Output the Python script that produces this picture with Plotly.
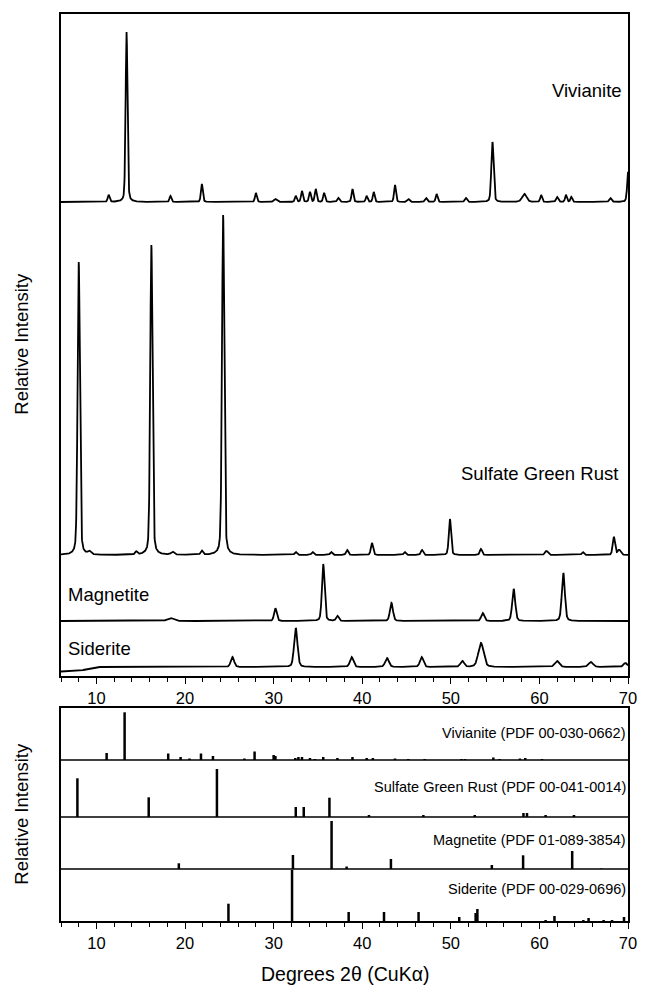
import numpy as np
import plotly.graph_objects as go

FONT = "Liberation Sans, Arial, sans-serif"
X_MIN, X_MAX = 6, 70

# ---------------- measured patterns (top panel) ----------------
# peak positions (deg 2theta), peak heights (relative units), FWHM (deg)
viv_pos = [11.38, 13.4, 18.35, 21.9, 28.0, 30.2, 32.5, 33.2, 34.1, 34.75, 35.7, 37.3, 38.9,
           40.5, 41.3, 43.7, 45.2, 47.2, 48.4, 51.7, 54.7, 58.3, 60.2, 62.0, 63.0, 63.6, 68.0, 70.05]
viv_hgt = [7, 170, 6, 18, 9, 3, 6, 11, 10, 13, 9, 4, 13,
           6, 10, 17, 3, 4, 8, 4, 60, 8, 7, 5, 7, 5, 4, 33]
viv_fwhm = [0.25, 0.25, 0.25, 0.25, 0.25, 0.4, 0.25, 0.25, 0.25, 0.25, 0.25, 0.3, 0.25,
            0.25, 0.25, 0.25, 0.3, 0.3, 0.25, 0.3, 0.3, 0.6, 0.25, 0.3, 0.25, 0.25, 0.3, 0.3]
viv_offset = 474
viv_bg_x = [6, 70]
viv_bg_y = [0, 0]

gr_pos = [8.0, 9.2, 14.5, 16.2, 18.6, 21.9, 24.3, 32.5, 34.4, 36.5, 38.3, 41.1, 44.8,
          46.75, 49.9, 53.4, 60.8, 64.9, 68.4, 69.0]
gr_hgt = [293, 3, 3, 310, 3, 4, 340, 3, 3, 3, 5, 12, 3,
          5, 36, 6, 4, 3, 18, 5]
gr_fwhm = [0.3, 0.4, 0.3, 0.3, 0.4, 0.3, 0.3, 0.3, 0.3, 0.3, 0.3, 0.3, 0.3,
           0.3, 0.3, 0.3, 0.4, 0.3, 0.3, 0.4]
gr_offset = 121
gr_bg_x = [6, 70]
gr_bg_y = [0, 0]

mag_pos = [18.35, 30.2, 35.6, 37.2, 43.3, 53.6, 57.1, 62.7]
mag_hgt = [3, 12.7, 57, 5, 18, 8, 32, 48]
mag_fwhm = [0.8, 0.35, 0.35, 0.35, 0.4, 0.4, 0.4, 0.4]
mag_offset = 55
mag_bg_x = [6, 70]
mag_bg_y = [0, 0]

sid_pos = [25.35, 32.5, 38.8, 42.8, 46.7, 51.3, 53.4, 62.0, 65.8, 69.7]
sid_hgt = [10, 39, 10, 9, 10, 6, 24, 6, 5, 4]
sid_fwhm = [0.45, 0.45, 0.45, 0.5, 0.45, 0.5, 0.7, 0.6, 0.6, 0.5]
sid_offset = 9
sid_bg_x = [6, 8, 10, 70]
sid_bg_y = [-4.5, -4, 0, 0]

# ---------------- reference sticks (bottom panel) ----------------
ref_viv_pos = [11.15, 13.18, 18.1, 19.5, 20.5, 21.8, 23.15, 26.7, 27.85, 30.0, 30.2, 32.45, 32.8,
               33.2, 34.1, 34.65, 35.6, 37.2, 38.9, 40.5, 41.2, 43.7, 45.2, 47.05, 51.2, 51.6,
               54.8, 55.5, 57.8, 58.4, 60.3]
ref_viv_hgt = [7, 47.7, 6.5, 3, 1.5, 6.5, 4, 1.5, 8.5, 5, 4, 2, 3,
               3, 2, 1, 3, 2, 3, 2, 2, 1.5, 1, 1, 1, 1,
               2.5, 1, 1.5, 2, 1]
ref_gr_pos = [7.85, 15.9, 23.6, 32.5, 33.4, 36.3, 40.76, 46.9, 52.7, 58.2, 58.6, 60.7, 63.9]
ref_gr_hgt = [38.7, 19.7, 48, 10, 10, 19.3, 2, 2, 2, 4, 4, 2, 2]
ref_mag_pos = [19.3, 32.18, 36.54, 38.24, 43.24, 54.63, 58.16, 63.7, 67.0]
ref_mag_hgt = [5.7, 14, 48, 2.5, 10, 4, 13.7, 18, 0.5]
ref_sid_pos = [24.9, 32.08, 38.47, 42.46, 46.36, 50.95, 52.8, 53.0, 60.7, 61.7, 64.96, 65.55,
               67.25, 68.2, 69.55]
ref_sid_hgt = [17.3, 51, 9, 9, 9, 4, 8, 12, 1, 5, 1, 3, 1, 1, 4]
ref_bases = {"sid": 0, "mag": 52, "gr": 104, "viv": 161}

x_ticks_major = 10
x_ticks_minor = 2

# ---------------- build ----------------
xx = np.arange(X_MIN, X_MAX + 0.001, 0.02)


def pattern(pos, hgt, fwhm, offset, bgx, bgy, eta=0.3):
    y = np.full_like(xx, float(offset)) + np.interp(xx, bgx, bgy)
    for p, h, w in zip(pos, hgt, fwhm):
        g = np.exp(-4 * np.log(2) * ((xx - p) / w) ** 2)
        l = 1.0 / (1 + 4 * ((xx - p) / w) ** 2)
        y += h * ((1 - eta) * g + eta * l)
    return y


def sticks(pos, hgt, base):
    xs, ys = [], []
    for p, h in zip(pos, hgt):
        xs += [p, p, None]
        ys += [base, base + h, None]
    return xs, ys


fig = go.Figure()
for pos, hgt, fw, off, bx, by in [
    (viv_pos, viv_hgt, viv_fwhm, viv_offset, viv_bg_x, viv_bg_y),
    (gr_pos, gr_hgt, gr_fwhm, gr_offset, gr_bg_x, gr_bg_y),
    (mag_pos, mag_hgt, mag_fwhm, mag_offset, mag_bg_x, mag_bg_y),
    (sid_pos, sid_hgt, sid_fwhm, sid_offset, sid_bg_x, sid_bg_y),
]:
    fig.add_trace(go.Scatter(x=xx, y=pattern(pos, hgt, fw, off, bx, by), mode="lines",
                             line=dict(color="black", width=1.8), xaxis="x", yaxis="y",
                             showlegend=False, hoverinfo="skip"))

for pos, hgt, key in [(ref_viv_pos, ref_viv_hgt, "viv"), (ref_gr_pos, ref_gr_hgt, "gr"),
                      (ref_mag_pos, ref_mag_hgt, "mag"), (ref_sid_pos, ref_sid_hgt, "sid")]:
    xs, ys = sticks(pos, hgt, ref_bases[key])
    fig.add_trace(go.Scatter(x=xs, y=ys, mode="lines", line=dict(color="black", width=2.5),
                             xaxis="x2", yaxis="y2", showlegend=False, hoverinfo="skip"))

W, H = 649, 985
ML, MR, MT, MB = 61, 12, 14, 64
ph = H - MT - MB
pw = W - ML - MR


def py(px):
    return (H - MB - px) / ph


axis_common = dict(range=[X_MIN, X_MAX], showline=True, mirror=True, linecolor="black",
                   linewidth=1.5, ticks="outside", ticklen=6, tickwidth=1.2, tickcolor="black",
                   dtick=x_ticks_major, tick0=0,
                   minor=dict(dtick=x_ticks_minor, ticks="outside", ticklen=4, tickwidth=1.2,
                              tickcolor="black", showgrid=False),
                   showgrid=False, zeroline=False,
                   tickfont=dict(family=FONT, size=16.5, color="black"))
yaxis_common = dict(showline=True, mirror=True, linecolor="black", linewidth=1.5,
                    showticklabels=False, ticks="", showgrid=False, zeroline=False)

LBL = 18.5
REF = 14.5
annotations = [
    dict(text="Vivianite", x=69.5, y=586, xref="x", yref="y", xanchor="right", yanchor="middle",
         showarrow=False, font=dict(family=FONT, size=LBL, color="black")),
    dict(text="Sulfate Green Rust", x=69.1, y=203, xref="x", yref="y", xanchor="right",
         yanchor="middle", showarrow=False, font=dict(family=FONT, size=LBL, color="black")),
    dict(text="Magnetite", x=6.6, y=82, xref="x", yref="y", xanchor="left", yanchor="middle",
         showarrow=False, font=dict(family=FONT, size=LBL, color="black")),
    dict(text="Siderite", x=6.6, y=27.7, xref="x", yref="y", xanchor="left", yanchor="middle",
         showarrow=False, font=dict(family=FONT, size=LBL, color="black")),
    dict(text="Vivianite (PDF 00-030-0662)", x=70.0, y=187.7, xref="x2", yref="y2",
         xanchor="right", yanchor="middle", showarrow=False,
         font=dict(family=FONT, size=REF, color="black")),
    dict(text="Sulfate Green Rust (PDF 00-041-0014)", x=70.0, y=133.7, xref="x2", yref="y2",
         xanchor="right", yanchor="middle", showarrow=False,
         font=dict(family=FONT, size=REF, color="black")),
    dict(text="Magnetite (PDF 01-089-3854)", x=70.0, y=81, xref="x2", yref="y2",
         xanchor="right", yanchor="middle", showarrow=False,
         font=dict(family=FONT, size=REF, color="black")),
    dict(text="Siderite (PDF 00-029-0696)", x=70.0, y=31.7, xref="x2", yref="y2",
         xanchor="right", yanchor="middle", showarrow=False,
         font=dict(family=FONT, size=REF, color="black")),
    dict(text="Relative Intensity", x=(20 - ML) / pw, y=py(344), xref="paper", yref="paper",
         textangle=-90, xanchor="center", yanchor="middle", showarrow=False,
         font=dict(family=FONT, size=18.5, color="black")),
    dict(text="Relative Intensity", x=(20 - ML) / pw, y=py(814), xref="paper", yref="paper",
         textangle=-90, xanchor="center", yanchor="middle", showarrow=False,
         font=dict(family=FONT, size=18.5, color="black")),
    dict(text="Degrees 2θ (CuKα)", x=0.5, y=py(974), xref="paper", yref="paper",
         xanchor="center", yanchor="middle", showarrow=False,
         font=dict(family=FONT, size=19.5, color="black")),
]

shapes = [dict(type="line", xref="paper", x0=0, x1=1, yref="y2", y0=b, y1=b,
               line=dict(color="black", width=1.5)) for b in (52, 104, 161)]

fig.update_layout(
    width=W, height=H,
    margin=dict(l=ML, r=MR, t=MT, b=MB),
    paper_bgcolor="white", plot_bgcolor="white",
    xaxis=dict(domain=[0, 1], anchor="y", **axis_common),
    yaxis=dict(domain=[py(676), 1], range=[0, 662], anchor="x", **yaxis_common),
    xaxis2=dict(domain=[0, 1], anchor="y2", **axis_common),
    yaxis2=dict(domain=[0, py(708)], range=[0, 213], anchor="x2", **yaxis_common),
    annotations=annotations,
    shapes=shapes,
    font=dict(family=FONT, color="black"),
)

fig.write_html("out.html")
